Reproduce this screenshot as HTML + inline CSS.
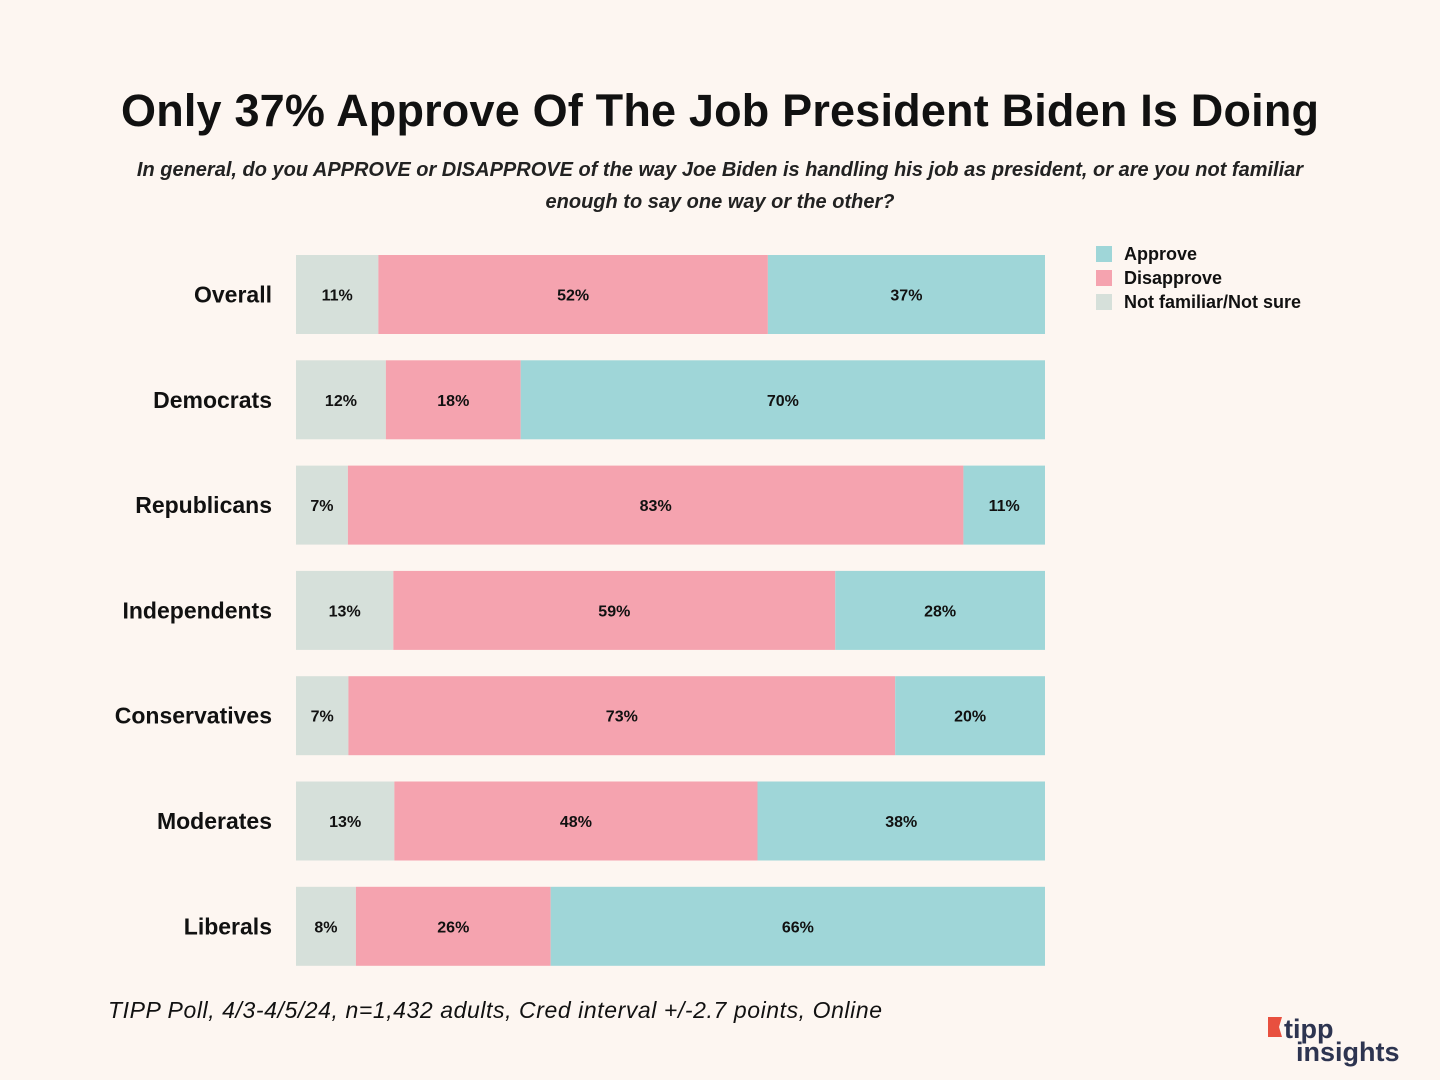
<!DOCTYPE html>
<html><head><meta charset="utf-8">
<style>
body{margin:0;background:#fdf6f1;}
svg{display:block;font-family:"Liberation Sans",sans-serif;}
</style></head><body>
<svg id="chart" width="1440" height="1080" viewBox="0 0 1440 1080">
<rect width="1440" height="1080" fill="#fdf6f1"/>
<text x="720" y="126" text-anchor="middle" font-size="45" font-weight="bold" fill="#111" textLength="1198">Only 37% Approve Of The Job President Biden Is Doing</text>
<text x="720" y="176" text-anchor="middle" font-size="20" font-style="italic" font-weight="bold" fill="#222">In general, do you APPROVE or DISAPPROVE of the way Joe Biden is handling his job as president, or are you not familiar</text>
<text x="720" y="208" text-anchor="middle" font-size="20" font-style="italic" font-weight="bold" fill="#222">enough to say one way or the other?</text>
<g>
<rect x="1096" y="246" width="16" height="16" fill="#9fd6d8"/>
<text x="1124" y="260" font-size="18" font-weight="bold" fill="#111">Approve</text>
<rect x="1096" y="270" width="16" height="16" fill="#f5a3af"/>
<text x="1124" y="284" font-size="18" font-weight="bold" fill="#111">Disapprove</text>
<rect x="1096" y="294" width="16" height="16" fill="#d6e0da"/>
<text x="1124" y="308" font-size="18" font-weight="bold" fill="#111">Not familiar/Not sure</text>
</g>
<g id="bars"></g>
<text x="108" y="1018" font-size="23" font-style="italic" fill="#111" textLength="774">TIPP Poll, 4/3-4/5/24, n=1,432 adults, Cred interval +/-2.7 points, Online</text>
<g>
<polygon points="1268,1017 1282,1017 1279,1027 1282,1037 1268,1037" fill="#e8503f"/>
<text x="1284" y="1038" font-size="27" font-weight="bold" fill="#2d3450">tipp</text>
<text x="1296" y="1061" font-size="27" font-weight="bold" fill="#2d3450">insights</text>
</g>
</svg>
<script>
const categories=["Overall","Democrats","Republicans","Independents","Conservatives","Moderates","Liberals"];
const notSure=[11,12,7,13,7,13,8];
const disapprove=[52,18,83,59,73,48,26];
const approve=[37,70,11,28,20,38,66];
const X0=296,X1=1045,Y0=255,STEP=105.3,BH=79;
const ns="http://www.w3.org/2000/svg";
const g=document.getElementById('bars');
function el(t,a){const e=document.createElementNS(ns,t);for(const k in a)e.setAttribute(k,a[k]);return e;}
categories.forEach((c,i)=>{
  const y=Y0+i*STEP;
  const tot=notSure[i]+disapprove[i]+approve[i];
  const sx=v=>v/tot*(X1-X0);
  const lab=el('text',{x:272,y:y+BH/2+8,'text-anchor':'end','font-size':23,'font-weight':'bold',fill:'#111'});
  
  
  lab.textContent=c;g.appendChild(lab);
  let x=X0;
  [[notSure[i],'#d6e0da','notsure'],[disapprove[i],'#f5a3af','disapprove'],[approve[i],'#9fd6d8','approve']].forEach(([v,col,n])=>{
    const w=sx(v);
    const r=el('rect',{x:x,y:y,width:w,height:BH,fill:col});
    
    
    g.appendChild(r);
    const t=el('text',{x:x+w/2,y:y+BH/2+6,'text-anchor':'middle','font-size':16,'font-weight':'bold',fill:'#111'});
    
    
    t.textContent=v+'%';g.appendChild(t);
    x+=w;
  });
});
</script>
</body></html>
